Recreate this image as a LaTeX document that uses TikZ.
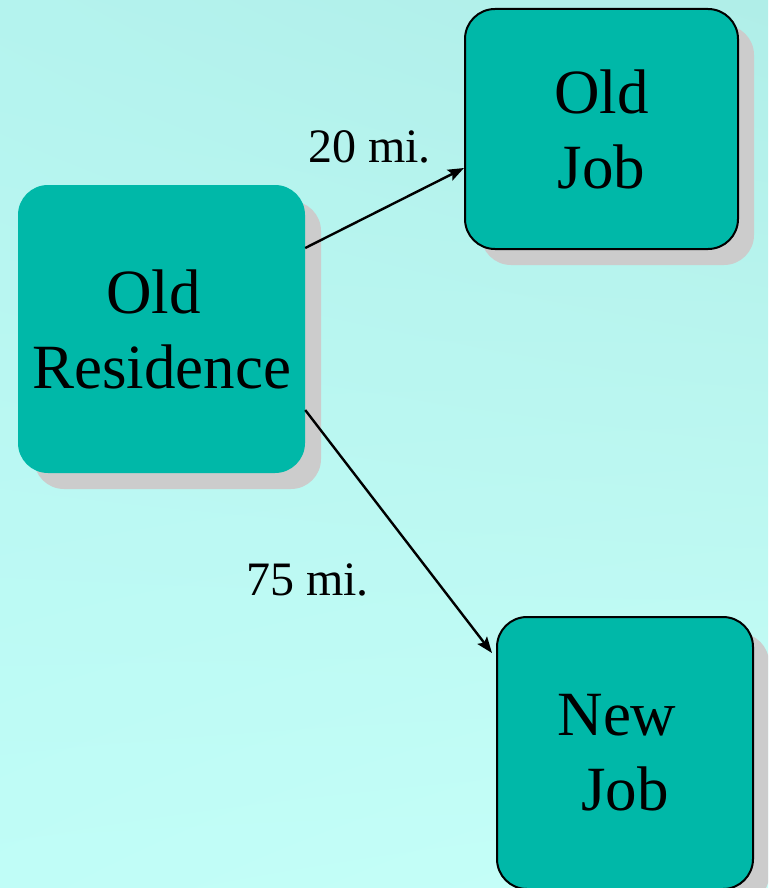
\documentclass[tikz,border=0pt]{standalone}
\usepackage{fontspec}
\setmainfont{Liberation Serif}
\usetikzlibrary{arrows.meta,shadows,shadings}
\definecolor{boxteal}{RGB}{0,184,168}
\definecolor{bgUL}{RGB}{180,243,238}
\definecolor{bgUR}{RGB}{176,238,232}
\definecolor{bgLL}{RGB}{192,253,247}
\definecolor{bgLR}{RGB}{198,255,248}
\definecolor{shadowgray}{RGB}{204,204,204}
\tikzset{
 box/.style={rounded corners=30pt, fill=boxteal, align=center,
   font=\fontsize{63}{75}\selectfont, inner sep=0pt,
   drop shadow={shadow xshift=16pt, shadow yshift=-16pt, fill=shadowgray, opacity=1}},
 outlined/.style={draw=black, line width=2pt},
 lbl/.style={font=\fontsize{48}{58}\selectfont, inner sep=0pt, anchor=base west},
 arr/.style={line width=2.4pt, -{Stealth[length=16pt,width=12pt,inset=3pt]}}
}
\begin{document}
\begin{tikzpicture}[x=1pt,y=-1pt]
\useasboundingbox (0,0) rectangle (768,888);
\clip (0,0) rectangle (768,888);
\shade[upper left=bgUL, upper right=bgUR, lower left=bgLL, lower right=bgLR] (0,0) rectangle (768,888);
\node[box, minimum width=287pt, minimum height=288pt] (res) at (161.5,329) {Old\hspace*{16pt}\\Residence};
\node[box, outlined, minimum width=273pt, minimum height=240pt] (oldjob) at (601.5,129) {Old\\Job};
\node[box, outlined, minimum width=256pt, minimum height=272pt] (newjob) at (625,753) {New\hspace*{16pt}\\Job};
\draw[arr] ([yshift=81pt]res.east) -- ([yshift=-39pt]oldjob.west);
\draw[arr] ([yshift=-81pt]res.east) -- ([xshift=-4pt,yshift=100pt]newjob.west);
\node[lbl] (l20) at (308,162) {20 mi.};
\node[lbl] (l75) at (246,595) {75 mi.};
\end{tikzpicture}
\end{document}
